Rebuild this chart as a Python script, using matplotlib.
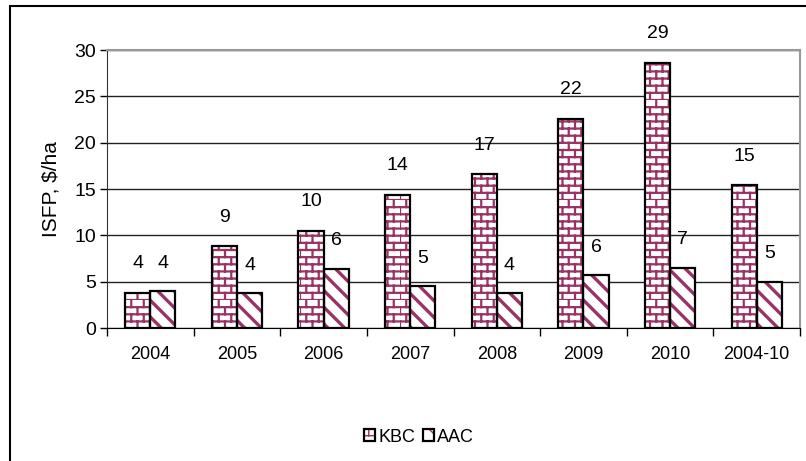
import warnings
import numpy as np
import matplotlib
matplotlib.use('Agg')
import matplotlib.pyplot as plt
import matplotlib.hatch as mhatch
from matplotlib.path import Path
from matplotlib.patches import Rectangle

# Values (ISFP, $/ha) per year
years = ['2004', '2005', '2006', '2007', '2008', '2009', '2010', '2004-10']
kbc = [3.8, 8.8, 10.5, 14.4, 16.6, 22.6, 28.6, 15.4]
aac = [4.0, 3.8, 6.4, 4.5, 3.8, 5.7, 6.5, 5.0]
kbc_labels = ['4', '9', '10', '14', '17', '22', '29', '15']
aac_labels = ['4', '4', '6', '5', '4', '6', '7', '5']

maroon = '#993366'


# brick hatch, triggered by the letter 'b' in a hatch string
class BrickHatch(mhatch.HatchPatternBase):
    rows = 14
    cols = 8

    def __init__(self, hatch, density):
        n = hatch.count('b')
        self.num_vertices = 2 * (self.rows + self.rows * self.cols) if n else 0

    def set_vertices_and_codes(self, vertices, codes):
        segs = []
        for r in range(self.rows):
            y0 = r / self.rows
            y1 = (r + 1) / self.rows
            segs.append([(0, y0), (1, y0)])
            off = 0 if r % 2 == 0 else 0.5 / self.cols
            for c in range(self.cols):
                x = c / self.cols + off
                segs.append([(x, y0), (x, y1)])
        vertices[:] = np.array(segs).reshape(-1, 2)
        codes[0::2] = Path.MOVETO
        codes[1::2] = Path.LINETO


mhatch._hatch_types.append(BrickHatch)
warnings.filterwarnings('ignore')

plt.rcParams['font.family'] = 'Liberation Sans'

fig = plt.figure(figsize=(8.06, 4.61), dpi=100)
ax = fig.add_axes([0.1328, 0.2885, 0.8598, 0.603])

x = np.arange(len(years))
w = 0.29

with plt.rc_context({'hatch.linewidth': 1.6}):
    b1 = ax.bar(x - w / 2, kbc, w, color='white', edgecolor=maroon,
                hatch='b', linewidth=0, zorder=3)
with plt.rc_context({'hatch.linewidth': 2.4}):
    b2 = ax.bar(x + w / 2, aac, w, color='white', edgecolor=maroon,
                hatch='\\\\', linewidth=0, zorder=3)
o1 = ax.bar(x - w / 2, kbc, w, fill=False, edgecolor='black', linewidth=1.6, zorder=4)
o2 = ax.bar(x + w / 2, aac, w, fill=False, edgecolor='black', linewidth=1.6, zorder=4)

for i in range(len(years)):
    ax.annotate(kbc_labels[i], (x[i] - w / 2, kbc[i]), xytext=(0, 21),
                textcoords='offset points', ha='center', va='center', fontsize=14)
    ax.annotate(aac_labels[i], (x[i] + w / 2, aac[i]), xytext=(0, 20),
                textcoords='offset points', ha='center', va='center', fontsize=14)

ax.set_xlim(-0.5, len(years) - 0.5)
ax.set_ylim(0, 30)
ax.set_yticks(range(0, 31, 5))
ax.tick_params(axis='y', labelsize=14, length=5, width=1, direction='out', pad=3)
ax.set_xticks(x)
ax.set_xticklabels(years)
ax.set_xticks(np.arange(-0.5, len(years)), minor=True)
ax.tick_params(axis='x', which='major', length=0, labelsize=13, pad=13)
ax.tick_params(axis='x', which='minor', length=6, width=1, direction='out')

ax.yaxis.grid(True, color='#222222', linewidth=1)
ax.set_axisbelow(True)
ax.spines['top'].set_color('#999999')
ax.spines['right'].set_color('#999999')
ax.spines['top'].set_linewidth(1.5)
ax.spines['right'].set_linewidth(1.5)
ax.spines['left'].set_color('#333333')
ax.spines['bottom'].set_color('black')

ax.set_ylabel('ISFP, $/ha', fontsize=15, labelpad=10)

fig.legend([(b1[0], o1[0]), (b2[0], o2[0])], ['KBC', 'AAC'],
           loc='center', bbox_to_anchor=(0.52, 0.052), ncol=2, frameon=False,
           fontsize=13, handlelength=0.6, handleheight=0.6, handletextpad=0.2,
           columnspacing=0.4)

# outer chart frame
fig.add_artist(Rectangle((10 / 806, -0.1), 1.0, 1.1 - 6 / 461, transform=fig.transFigure,
                         fill=False, edgecolor='black', linewidth=1.5))

fig.savefig('out.png', dpi=100)
